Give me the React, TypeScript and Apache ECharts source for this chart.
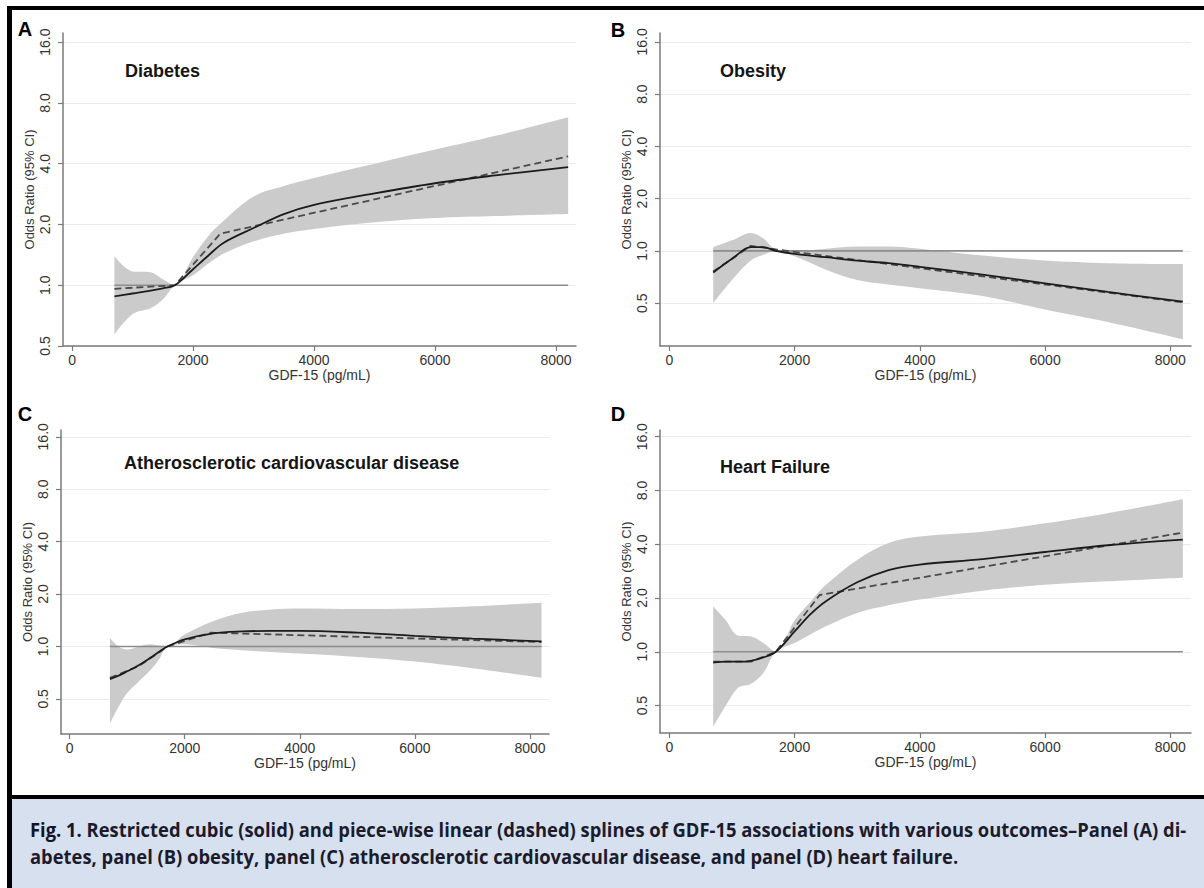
import React, { useEffect, useRef } from "react";
import * as echarts from "echarts";

// ---------- data ----------
const gdfTicks = [0, 2000, 4000, 6000, 8000];
const orTicks = [0.5, 1, 2, 4, 8, 16];
const refLineX = [700, 8200];
const refLineOR = [1, 1];

// Panel A – Diabetes
const diabetesX = [700, 1000, 1300, 1500, 1700, 2000, 2250, 2500, 3000, 3500, 4000, 5000, 6000, 7000, 8200];
const diabetesSolid = [0.88, 0.91, 0.94, 0.965, 1.0, 1.2, 1.4, 1.62, 1.92, 2.25, 2.5, 2.85, 3.2, 3.5, 3.85];
const diabetesUpper = [1.39, 1.17, 1.16, 1.07, 1.0, 1.38, 1.75, 2.08, 2.75, 3.1, 3.4, 4.0, 4.7, 5.5, 6.8];
const diabetesLower = [0.57, 0.72, 0.77, 0.85, 1.0, 1.12, 1.28, 1.43, 1.65, 1.8, 1.9, 2.05, 2.15, 2.2, 2.25];
const diabetesDashX = [700, 1700, 2450, 8200];
const diabetesDash = [0.96, 1.0, 1.8, 4.35];

// Panel B – Obesity
const obesityX = [700, 1000, 1300, 1500, 1700, 2000, 2500, 3000, 3500, 4000, 5000, 6000, 7000, 8200];
const obesitySolid = [0.75, 0.9, 1.05, 1.05, 1.0, 0.96, 0.92, 0.88, 0.85, 0.81, 0.73, 0.65, 0.58, 0.51];
const obesityUpper = [1.05, 1.15, 1.27, 1.18, 1.02, 1.0, 1.03, 1.06, 1.06, 1.03, 0.94, 0.88, 0.85, 0.84];
const obesityLower = [0.5, 0.68, 0.88, 0.95, 1.0, 0.93, 0.78, 0.68, 0.64, 0.61, 0.55, 0.46, 0.39, 0.31];
const obesityDashX = [700, 1300, 1700, 8200];
const obesityDash = [0.76, 1.07, 1.02, 0.505];

// Panel C – Atherosclerotic cardiovascular disease
const ascvdX = [700, 850, 1000, 1200, 1400, 1550, 1700, 2000, 2500, 3000, 3500, 4000, 5000, 6000, 7000, 8200];
const ascvdSolid = [0.65, 0.68, 0.72, 0.78, 0.86, 0.93, 1.0, 1.1, 1.19, 1.22, 1.23, 1.23, 1.2, 1.15, 1.11, 1.07];
const ascvdUpper = [1.12, 1.0, 0.96, 1.0, 1.03, 1.01, 1.0, 1.17, 1.4, 1.56, 1.63, 1.65, 1.64, 1.65, 1.7, 1.78];
const ascvdLower = [0.36, 0.45, 0.54, 0.63, 0.73, 0.84, 1.0, 1.03, 0.98, 0.95, 0.93, 0.91, 0.87, 0.82, 0.75, 0.66];
const ascvdDashX = [700, 1200, 1700, 2450, 8200];
const ascvdDash = [0.66, 0.77, 1.0, 1.2, 1.06];

// Panel D – Heart Failure
const hfX = [700, 900, 1100, 1300, 1500, 1700, 2000, 2250, 2500, 3000, 3500, 4000, 5000, 6000, 7000, 8200];
const hfSolid = [0.87, 0.88, 0.88, 0.89, 0.93, 1.0, 1.3, 1.62, 1.92, 2.45, 2.87, 3.08, 3.3, 3.62, 3.95, 4.25];
const hfUpper = [1.8, 1.5, 1.23, 1.22, 1.12, 1.0, 1.5, 1.9, 2.37, 3.27, 4.06, 4.42, 4.7, 5.24, 5.97, 7.15];
const hfLower = [0.38, 0.5, 0.63, 0.66, 0.76, 1.0, 1.12, 1.25, 1.39, 1.65, 1.82, 1.96, 2.2, 2.37, 2.48, 2.6];
const hfDashX = [700, 1300, 1700, 2400, 8200];
const hfDash = [0.88, 0.88, 1.0, 2.08, 4.65];

const panelLetters = ["A", "B", "C", "D"];
const panelTitles = ["Diabetes", "Obesity", "Atherosclerotic cardiovascular disease", "Heart Failure"];
const xAxisTitle = "GDF-15 (pg/mL)";
const yAxisTitle = "Odds Ratio (95% CI)";
const captionFig = "Fig. 1.";
const captionLine1 =
  " Restricted cubic (solid) and piece-wise linear (dashed) splines of GDF-15 associations with various outcomes\u2013Panel (A) di-";
const captionLine2 =
  "abetes, panel (B) obesity, panel (C) atherosclerotic cardiovascular disease, and panel (D) heart failure.";

// ---------- layout (positions / axis extents) ----------
const panelData = [
  { x: diabetesX, solid: diabetesSolid, upper: diabetesUpper, lower: diabetesLower, dashX: diabetesDashX, dash: diabetesDash },
  { x: obesityX, solid: obesitySolid, upper: obesityUpper, lower: obesityLower, dashX: obesityDashX, dash: obesityDash },
  { x: ascvdX, solid: ascvdSolid, upper: ascvdUpper, lower: ascvdLower, dashX: ascvdDashX, dash: ascvdDash },
  { x: hfX, solid: hfSolid, upper: hfUpper, lower: hfLower, dashX: hfDashX, dash: hfDash },
];

const layout = [
  { grid: { left: 63, top: 33, width: 513, height: 313 }, yLog: [-1, 4.15], letter: [25, 29], title: [125, 71] },
  { grid: { left: 660, top: 33, width: 531, height: 313 }, yLog: [-1.82, 4.17], letter: [618, 30], title: [720, 71] },
  { grid: { left: 61, top: 430, width: 488, height: 304 }, yLog: [-1.67, 4.13], letter: [25, 414], title: [124, 463] },
  { grid: { left: 660, top: 430, width: 531, height: 303 }, yLog: [-1.51, 4.125], letter: [618, 414], title: [720, 467] },
];
const xRange = [-150, 8330];

const FONT = "'Liberation Sans', Arial, Helvetica, sans-serif";
const CAPTION_FONT_NAME = "Open Sans";
const CAPTION_SIZE = 20;
const CAPTION_LEFT = 30;
const CAPTION_LINE1_WIDTH = 1157;

const L2 = (v: number) => Math.log2(v);
const zip = (xs: number[], ys: number[]) => xs.map((x, i) => [x, ys[i]]);

function measureWidth(text: string, font: string) {
  const c = document.createElement("canvas").getContext("2d");
  if (!c) return text.length * 9;
  c.font = font;
  return c.measureText(text).width;
}

function buildOption() {
  const yTicks = orTicks.map(L2);
  const grids: any[] = [];
  const xAxes: any[] = [];
  const yAxes: any[] = [];
  const series: any[] = [];
  const graphics: any[] = [];

  const axisColor = "#7a7a7a";

  layout.forEach((lay, i) => {
    const d = panelData[i];
    grids.push({ ...lay.grid, containLabel: false });
    xAxes.push({
      gridIndex: i,
      type: "value",
      min: xRange[0],
      max: xRange[1],
      axisLine: { show: true, onZero: false, lineStyle: { color: axisColor, width: 1.5 } },
      axisTick: { show: true, customValues: gdfTicks, length: 5, lineStyle: { color: axisColor, width: 1.2 } },
      axisLabel: {
        customValues: gdfTicks,
        margin: 7,
        fontSize: 14,
        color: "#333",
        fontFamily: FONT,
        formatter: (v: number) => String(v),
      },
      splitLine: { show: false },
      name: xAxisTitle,
      nameLocation: "middle",
      nameGap: 22,
      nameTextStyle: { fontSize: 14, color: "#333", fontFamily: FONT },
    });
    yAxes.push({
      gridIndex: i,
      type: "value",
      min: lay.yLog[0],
      max: lay.yLog[1],
      axisLine: { show: true, onZero: false, lineStyle: { color: axisColor, width: 1.5 } },
      axisTick: { show: true, customValues: yTicks, length: 5, lineStyle: { color: axisColor, width: 1.2 } },
      axisLabel: {
        customValues: yTicks,
        rotate: 90,
        margin: 11,
        fontSize: 14,
        color: "#333",
        fontFamily: FONT,
        formatter: (v: number) => Math.pow(2, v).toFixed(1),
      },
      splitLine: { show: true, lineStyle: { color: "#ebebeb", width: 1 } },
      name: yAxisTitle,
      nameLocation: "middle",
      nameRotate: 90,
      nameGap: 27,
      nameTextStyle: { fontSize: 13, color: "#333", fontFamily: FONT },
    });

    // CI band: stacked (lower + width), y stored in column 0 so that y is the stacked dimension
    const stackId = "band" + i;
    series.push({
      type: "line",
      xAxisIndex: i,
      yAxisIndex: i,
      stack: stackId,
      stackStrategy: "all",
      encode: { x: 1, y: 0 },
      data: d.x.map((x, k) => [L2(d.lower[k]), x]),
      smooth: 0.35,
      symbol: "none",
      lineStyle: { opacity: 0, width: 0 },
      z: 2,
      silent: true,
    });
    series.push({
      type: "line",
      xAxisIndex: i,
      yAxisIndex: i,
      stack: stackId,
      stackStrategy: "all",
      encode: { x: 1, y: 0 },
      data: d.x.map((x, k) => [L2(d.upper[k]) - L2(d.lower[k]), x]),
      smooth: 0.35,
      symbol: "none",
      lineStyle: { opacity: 0, width: 0 },
      areaStyle: { color: "#cbcbcb", opacity: 1 },
      z: 2,
      silent: true,
    });
    series.push({
      type: "line",
      xAxisIndex: i,
      yAxisIndex: i,
      data: zip(refLineX, refLineOR.map(L2)),
      symbol: "none",
      lineStyle: { color: "#8d8d8d", width: 1.6 },
      z: 3,
      silent: true,
    });
    series.push({
      type: "line",
      xAxisIndex: i,
      yAxisIndex: i,
      data: zip(d.dashX, d.dash.map(L2)),
      symbol: "none",
      lineStyle: { color: "#4a4a4a", width: 1.8, type: [7, 4] },
      z: 4,
      silent: true,
    });
    series.push({
      type: "line",
      xAxisIndex: i,
      yAxisIndex: i,
      data: zip(d.x, d.solid.map(L2)),
      smooth: 0.35,
      symbol: "none",
      lineStyle: { color: "#1c1c1c", width: 1.8 },
      z: 5,
      silent: true,
    });

    graphics.push({
      type: "text",
      x: lay.letter[0],
      y: lay.letter[1],
      z: 100,
      style: {
        text: panelLetters[i],
        fontSize: 20,
        fontWeight: "bold",
        fontFamily: FONT,
        fill: "#000",
        align: "center",
        verticalAlign: "middle",
      },
    });
    graphics.push({
      type: "text",
      x: lay.title[0],
      y: lay.title[1],
      z: 100,
      style: {
        text: panelTitles[i],
        fontSize: 18,
        fontWeight: "bold",
        fontFamily: FONT,
        fill: "#151515",
        align: "left",
        verticalAlign: "middle",
      },
    });
  });

  // frame + caption box
  graphics.push({ type: "rect", z: 90, shape: { x: 7, y: 6, width: 1197, height: 4 }, style: { fill: "#000" } });
  graphics.push({ type: "rect", z: 90, shape: { x: 7, y: 6, width: 5, height: 882 }, style: { fill: "#000" } });
  graphics.push({ type: "rect", z: 90, shape: { x: 7, y: 795, width: 1197, height: 4 }, style: { fill: "#000" } });
  graphics.push({ type: "rect", z: 90, shape: { x: 12, y: 799, width: 1192, height: 89 }, style: { fill: "#d7e0ee" } });

  const capFont = `bold ${CAPTION_SIZE}px '${CAPTION_FONT_NAME}'`;
  const w1 = measureWidth(captionFig + captionLine1, capFont);
  const sx = w1 > 0 ? CAPTION_LINE1_WIDTH / w1 : 0.85;
  const capStyle = {
    fontSize: CAPTION_SIZE,
    fontWeight: "bold",
    fontFamily: `'${CAPTION_FONT_NAME}', sans-serif`,
    fill: "#1b1b2b",
    align: "left",
    verticalAlign: "middle",
  };
  graphics.push({
    type: "text",
    x: CAPTION_LEFT,
    y: 829,
    scaleX: sx,
    z: 100,
    style: {
      ...capStyle,
      text: "{f|" + captionFig + "}" + captionLine1,
      rich: { f: { fontSize: CAPTION_SIZE, fontWeight: "bold", fontFamily: `'${CAPTION_FONT_NAME}', sans-serif`, fill: "#141428" } },
    },
  });
  graphics.push({
    type: "text",
    x: CAPTION_LEFT,
    y: 856,
    scaleX: sx,
    z: 100,
    style: { ...capStyle, text: captionLine2 },
  });

  return {
    animation: false,
    backgroundColor: "#ffffff",
    textStyle: { fontFamily: FONT },
    grid: grids,
    xAxis: xAxes,
    yAxis: yAxes,
    series,
    graphic: { elements: graphics },
  };
}

export default function App() {
  const ref = useRef<HTMLDivElement>(null);
  useEffect(() => {
    if (!ref.current) return;
    const chart = echarts.init(ref.current, undefined, { renderer: "svg" });
    chart.setOption(buildOption() as any);
    return () => chart.dispose();
  }, []);
  return (
    <div
      ref={ref}
      style={{ position: "fixed", left: 0, top: 0, width: 1204, height: 888, background: "#fff" }}
    />
  );
}
